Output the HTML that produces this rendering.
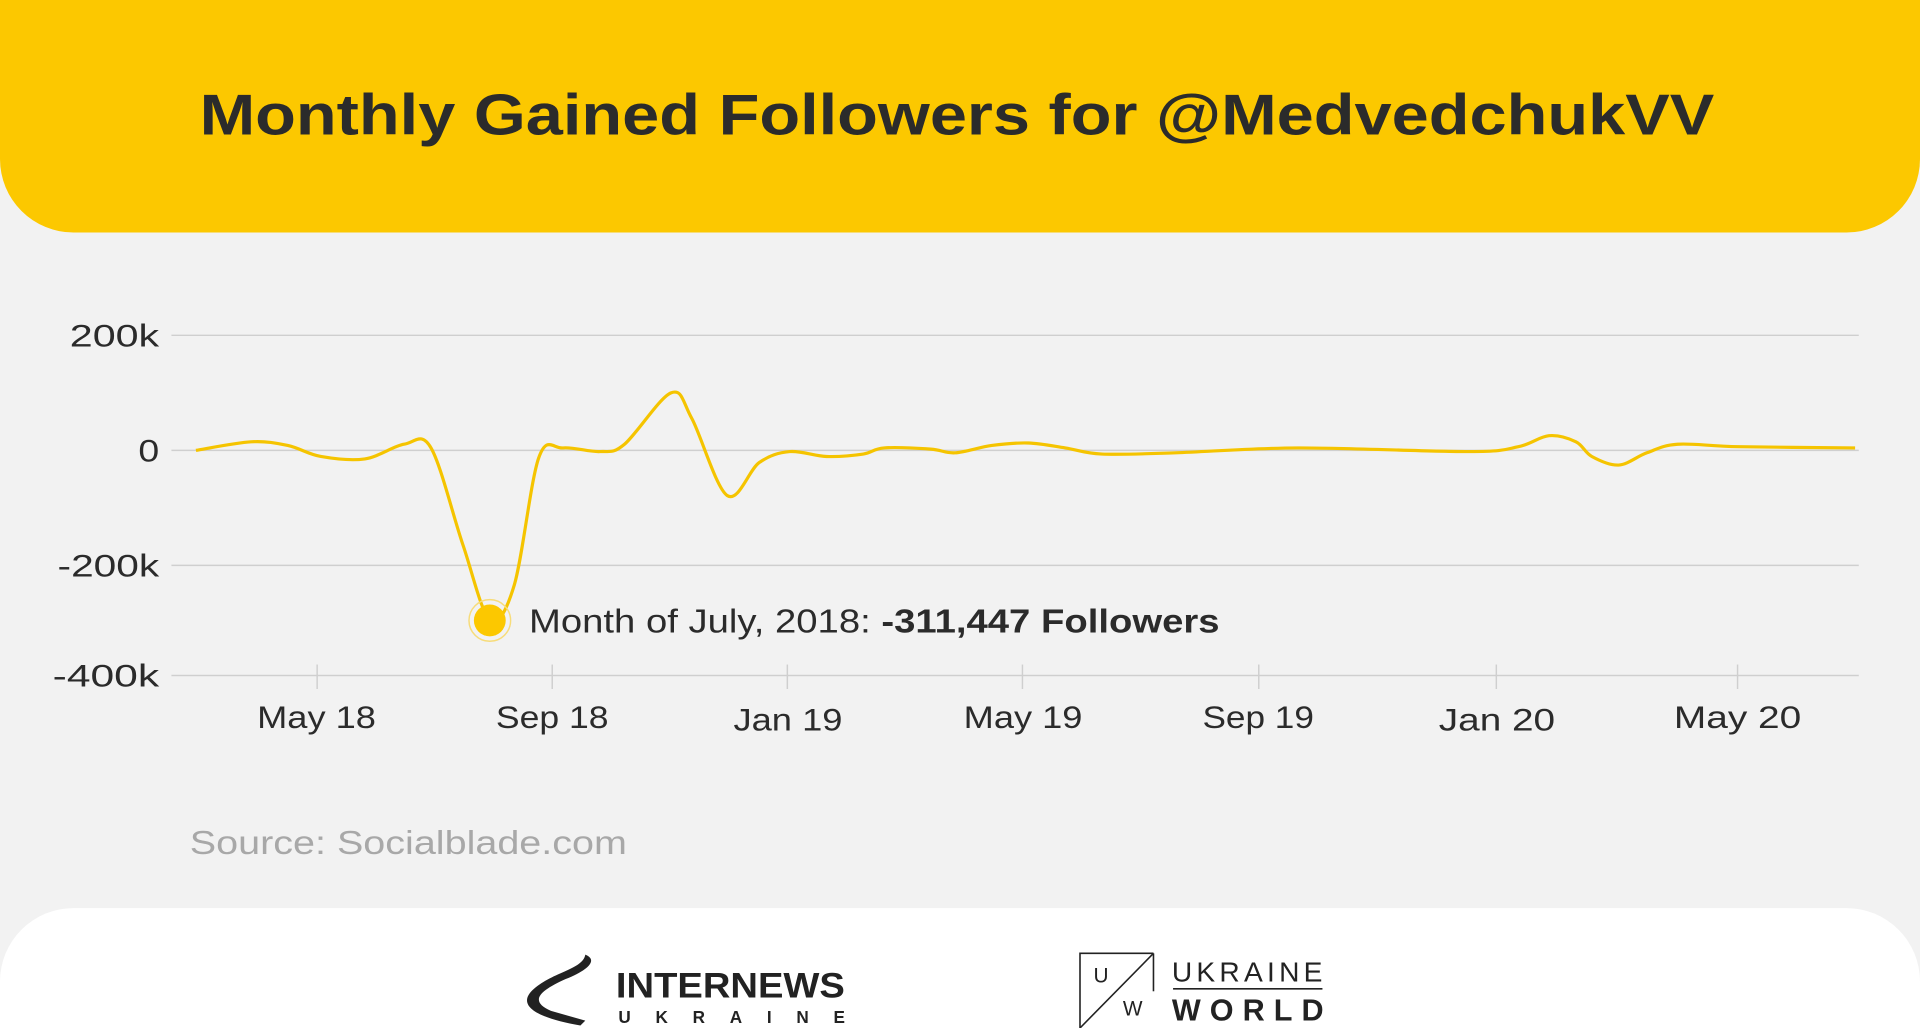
<!DOCTYPE html>
<html><head><meta charset="utf-8"><style>
html,body{margin:0;padding:0;background:#f2f2f2;overflow:hidden}
svg{display:block}
text{font-family:"Liberation Sans",sans-serif}
</style></head><body>
<svg width="1920" height="1028" viewBox="0 0 1568 840" preserveAspectRatio="none">
<rect width="1568" height="840" fill="#f2f2f2"/>
<path d="M0 0H1568V130A60 60 0 0 1 1508 190H60A60 60 0 0 1 0 130Z" fill="#fcc800"/>
<text x="163" y="110" font-size="47" font-weight="bold" fill="#2b2b2b" textLength="1237" lengthAdjust="spacingAndGlyphs">Monthly Gained Followers for @MedvedchukVV</text>
<g stroke="#cfcfcf" stroke-width="1.2">
<line x1="140" y1="274" x2="1518" y2="274"/><line x1="140" y1="368" x2="1518" y2="368"/>
<line x1="140" y1="462" x2="1518" y2="462"/><line x1="140" y1="552" x2="1518" y2="552"/>
<line x1="259" y1="543" x2="259" y2="563"/><line x1="451" y1="543" x2="451" y2="563"/>
<line x1="643" y1="543" x2="643" y2="563"/><line x1="835" y1="543" x2="835" y2="563"/>
<line x1="1028" y1="543" x2="1028" y2="563"/><line x1="1222" y1="543" x2="1222" y2="563"/>
<line x1="1419" y1="543" x2="1419" y2="563"/>
</g>
<g font-size="26" fill="#2b2b2b">
<text x="57" y="283" textLength="73" lengthAdjust="spacingAndGlyphs">200k</text><text x="113" y="377" textLength="17" lengthAdjust="spacingAndGlyphs">0</text>
<text x="47" y="471" textLength="83" lengthAdjust="spacingAndGlyphs">-200k</text><text x="43" y="561" textLength="87" lengthAdjust="spacingAndGlyphs">-400k</text>
</g>
<g font-size="26" fill="#2b2b2b">
<text x="210" y="595" textLength="97" lengthAdjust="spacingAndGlyphs">May 18</text><text x="405" y="595" textLength="92" lengthAdjust="spacingAndGlyphs">Sep 18</text>
<text x="599" y="597" textLength="89" lengthAdjust="spacingAndGlyphs">Jan 19</text><text x="787" y="595" textLength="97" lengthAdjust="spacingAndGlyphs">May 19</text>
<text x="982" y="595" textLength="91" lengthAdjust="spacingAndGlyphs">Sep 19</text><text x="1175" y="597" textLength="95" lengthAdjust="spacingAndGlyphs">Jan 20</text>
<text x="1367" y="595" textLength="104" lengthAdjust="spacingAndGlyphs">May 20</text>
</g>
<path id="ln" fill="none" stroke="#f5c400" stroke-width="2.6" stroke-linejoin="round"/>
<circle cx="400" cy="507" r="17" fill="none" stroke="#f7dc7a" stroke-width="1.2"/>
<circle cx="400" cy="507" r="13" fill="#fcc800"/>
<text x="432" y="517" font-size="27" fill="#2b2b2b" textLength="564" lengthAdjust="spacingAndGlyphs">Month of July, 2018: <tspan font-weight="bold">-311,447 Followers</tspan></text>
<text x="155" y="698" font-size="27" fill="#a8a8a8" textLength="357" lengthAdjust="spacingAndGlyphs">Source: Socialblade.com</text>
<path d="M0 802A60 60 0 0 1 60 742H1508A60 60 0 0 1 1568 802V840H0Z" fill="#ffffff"/>
<path d="M478 780 C488 784 482 792 462 800 C440 810 432 818 450 826 L478 834 L474 838 C440 832 420 822 436 808 C452 794 476 792 478 780Z" fill="#222"/>
<text x="503" y="815" font-size="29" font-weight="bold" fill="#222" textLength="187" lengthAdjust="spacingAndGlyphs">INTERNEWS</text>
<text x="505" y="836" font-size="14" font-weight="bold" fill="#222" textLength="185" lengthAdjust="spacing">UKRAINE</text>
<g stroke="#222" stroke-width="1.3" fill="none">
<path d="M942 779H882V840"/><line x1="942" y1="779" x2="942" y2="810"/><line x1="942" y1="779" x2="882" y2="840"/>
<line x1="958" y1="808" x2="1080" y2="808"/>
</g>
<text x="893" y="803" font-size="17" fill="#222">U</text>
<text x="917" y="830" font-size="17" fill="#222">W</text>
<text x="957" y="802" font-size="23" fill="#222" textLength="123" lengthAdjust="spacing">UKRAINE</text>
<text x="957" y="834" font-size="25" font-weight="bold" fill="#222" textLength="124" lengthAdjust="spacing">WORLD</text>
</svg>
<script>
var p=[[160,368],[205,361],[235,364],[262,373],[298,375],[330,363],[352,366],[378,445],[400,506],[420,478],[440,374],[460,366],[490,369],[510,363],[548,321],[565,342],[594,405],[620,378],[645,369],[675,373],[705,371],[722,366],[760,367],[780,370],[810,364],[840,362],[870,366],[900,371],[960,370],[1060,366],[1200,369],[1240,365],[1265,356],[1287,361],[1300,373],[1322,380],[1345,370],[1370,363],[1420,365],[1515,366]];
var d="M"+p[0][0]+" "+p[0][1];
for(var i=0;i<p.length-1;i++){var a=p[i-1]||p[i],b=p[i],c=p[i+1],e=p[i+2]||c;
d+=" C"+(b[0]+(c[0]-a[0])/6)+" "+(b[1]+(c[1]-a[1])/6)+" "+(c[0]-(e[0]-b[0])/6)+" "+(c[1]-(e[1]-b[1])/6)+" "+c[0]+" "+c[1];}
document.getElementById("ln").setAttribute("d",d);
</script>
</body></html>
